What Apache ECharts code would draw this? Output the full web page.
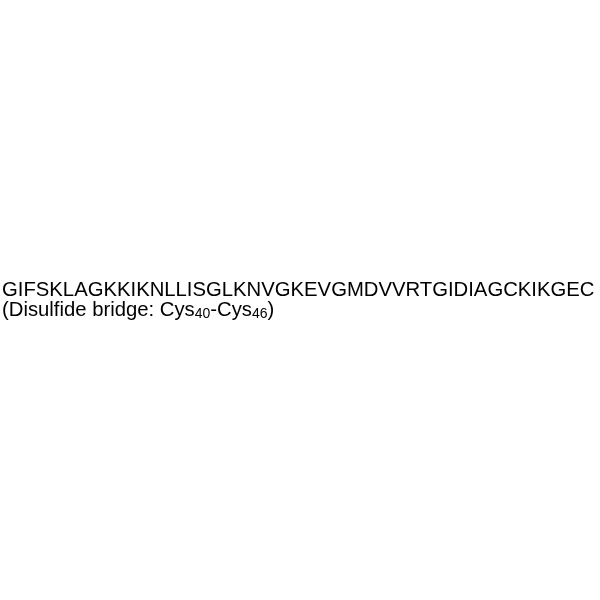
<!DOCTYPE html>
<html>
<head>
<meta charset="utf-8">
<script src="https://cdn.jsdelivr.net/npm/echarts@6/dist/echarts.min.js"></script>
<style>
html,body{margin:0;padding:0;background:#fff;}
#main{width:600px;height:600px;}
</style>
</head>
<body>
<div id="main"></div>
<script>
// peptide sequence and disulfide note
var sequence = "GIFSKLAGKKIKNLLISGLKNVGKEVGMDVVRTGIDIAGCKIKGEC";
var bridgeLabel = "Disulfide bridge: ";
var bridgeResidues = ["Cys", "Cys"];
var bridgePositions = ["40", "46"];

var noteText = "{n|(" + bridgeLabel + bridgeResidues[0] + "}{s|" + bridgePositions[0] + "}"
	+ "{n|-" + bridgeResidues[1] + "}{s|" + bridgePositions[1] + "}{n|)}";

var myChart = echarts.init(document.getElementById("main"));
var option = {
	backgroundColor: "#ffffff",
	graphic: [
		{
			type: "text",
			left: 2,
			top: 280,
			style: {
				text: sequence,
				fill: "#000",
				font: "20.3px 'Liberation Sans', Arial, sans-serif"
			}
		},
		{
			type: "text",
			left: 2,
			top: 298,
			style: {
				text: noteText,
				fill: "#000",
				rich: {
					n: {
						fontSize: 20.3,
						fontFamily: "'Liberation Sans', Arial, sans-serif",
						lineHeight: 22,
						fill: "#000"
					},
					s: {
						fontSize: 14,
						fontFamily: "'Liberation Sans', Arial, sans-serif",
						lineHeight: 22,
						verticalAlign: "bottom",
						padding: [9, 0, 0, 0],
						fill: "#000"
					}
				}
			}
		}
	]
};
myChart.setOption(option);
</script>
</body>
</html>
